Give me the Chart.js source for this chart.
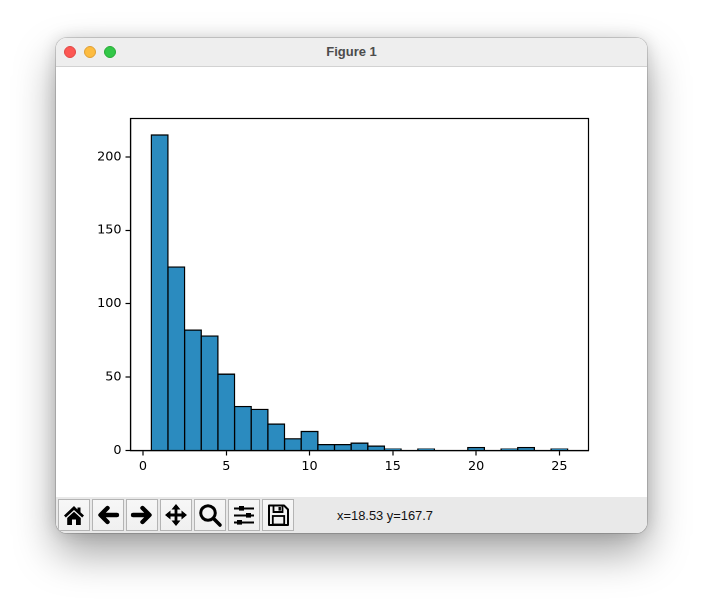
<!DOCTYPE html>
<html>
<head>
<meta charset="utf-8">
<script src="https://cdn.jsdelivr.net/npm/chart.js@4/dist/chart.umd.min.js"></script>
<style>
html,body{margin:0;padding:0;width:703px;height:607px;background:#fff;overflow:hidden}
#win{position:absolute;left:56px;top:38px;width:591px;height:495px;border-radius:11px;background:#fff;
 box-shadow:0 0 0 1px rgba(0,0,0,.15),0 20px 42px rgba(0,0,0,.36),0 0 16px rgba(0,0,0,.14);overflow:hidden}
#title{position:absolute;left:0;top:0;width:591px;height:28px;background:#eeeeee;border-bottom:1px solid #d2d2d2;
 font:bold 13px "Liberation Sans",sans-serif;color:#4c4c4c;text-align:center;line-height:28px}
.dot{position:absolute;top:8px;width:12px;height:12px;border-radius:50%;box-sizing:border-box}
#cv{position:absolute;left:0;top:29px;width:591px;height:430px}
#c{display:block}
#tb{position:absolute;left:0;top:459px;width:591px;height:36px;background:#e9e9e9}
.btn{position:absolute;top:2px;width:32px;height:32px;box-sizing:border-box;border:1px solid #b4b4b4;
 background:linear-gradient(#f7f7f7,#f0f0f0)}
.btn svg{position:absolute;left:0;top:0;width:30px;height:30px}
#status{position:absolute;left:281px;top:11px;font:12.9px "Liberation Sans",sans-serif;color:#111;white-space:nowrap}
</style>
</head>
<body>
<div id="win">
 <div id="title">Figure 1</div>
 <div class="dot" style="left:8px;background:#fc5753;border:1px solid #df4744"></div>
 <div class="dot" style="left:28px;background:#fdbc40;border:1px solid #de9f34"></div>
 <div class="dot" style="left:48px;background:#33c748;border:1px solid #27aa35"></div>
 <div id="cv"><canvas id="c" width="591" height="430"></canvas></div>
 <div id="tb">
  <div class="btn" style="left:2px"><svg viewBox="0 0 30 30"><path d="M15 6 L5 15.5 L6.8 17.6 L15 10 L23.2 17.6 L25 15.5 L21.5 12.2 V7.5 H18.5 V9.4 Z" fill="#000"/><path d="M8.2 18 L15 11.8 L21.8 18 V25 H17 V19.5 H13 V25 H8.2 Z" fill="#000"/></svg></div>
  <div class="btn" style="left:36px"><svg viewBox="0 0 30 30"><path d="M24 15 H8 M14.5 8 L7.5 15 L14.5 22" fill="none" stroke="#000" stroke-width="4.4" stroke-linecap="round" stroke-linejoin="round"/></svg></div>
  <div class="btn" style="left:70px"><svg viewBox="0 0 30 30"><path d="M6 15 H22 M15.5 8 L22.5 15 L15.5 22" fill="none" stroke="#000" stroke-width="4.4" stroke-linecap="round" stroke-linejoin="round"/></svg></div>
  <div class="btn" style="left:104px"><svg viewBox="0 0 30 30"><path d="M15 6 V24 M6 15 H24" stroke="#000" stroke-width="2.8" fill="none"/><path d="M15 4 L19.5 9.5 H10.5 Z M15 26 L19.5 20.5 H10.5 Z M4 15 L9.5 10.5 V19.5 Z M26 15 L20.5 10.5 V19.5 Z" fill="#000"/></svg></div>
  <div class="btn" style="left:138px"><svg viewBox="0 0 30 30"><circle cx="13" cy="13" r="7.3" fill="none" stroke="#000" stroke-width="3"/><path d="M18.5 18.5 L25 25" stroke="#000" stroke-width="3.6" stroke-linecap="round"/></svg></div>
  <div class="btn" style="left:172px"><svg viewBox="0 0 30 30"><path d="M5 8.5 H25 M5 15.5 H25 M5 22.5 H25" stroke="#000" stroke-width="1.8"/><rect x="10" y="6" width="5" height="4.6" fill="#000"/><rect x="17" y="13" width="5" height="4.6" fill="#000"/><rect x="8" y="20" width="5" height="4.6" fill="#000"/></svg></div>
  <div class="btn" style="left:206px"><svg viewBox="0 0 30 30"><path d="M6 5.5 H21 L25 9.5 V25 H6 Z" fill="none" stroke="#000" stroke-width="2" stroke-linejoin="round"/><path d="M10.5 6 V12 H19.5 V6" fill="none" stroke="#000" stroke-width="1.8"/><rect x="15.5" y="7" width="2.4" height="3.6" fill="#000"/><rect x="9.8" y="16" width="11.4" height="8.5" fill="none" stroke="#000" stroke-width="1.8"/></svg></div>
  <div id="status">x=18.53 y=167.7</div>
 </div>
</div>
<script>
const binCenters = [1,2,3,4,5,6,7,8,9,10,11,12,13,14,15,16,17,18,19,20,21,22,23,24,25];
const binCounts  = [215,125,82,78,52,30,28,18,8,13,4,4,5,3,1,0,1,0,0,2,0,1,2,0,1];
const xTicks = [0,5,10,15,20,25];
const yTicks = [0,50,100,150,200];

const frame = {
  id:'frame',
  afterDraw(chart){
    const {ctx,chartArea:a} = chart;
    ctx.save();
    ctx.strokeStyle='#000';ctx.lineWidth=1.2;
    ctx.strokeRect(a.left,a.top,a.right-a.left,a.bottom-a.top);
    ctx.restore();
  }
};
const font = {family:'"DejaVu Sans"',size:12.8};
new Chart(document.getElementById('c'),{
  type:'bar',
  data:{datasets:[{
    data:binCenters.map((x,i)=>({x:x,y:binCounts[i]})),
    backgroundColor:'#2b8bbf',borderColor:'#000',borderWidth:1.3,inflateAmount:0.65,
    barPercentage:1,categoryPercentage:1
  }]},
  options:{
    responsive:false,animation:false,devicePixelRatio:2,
    layout:{padding:{top:51.5,right:58.5,left:0,bottom:0}},
    plugins:{legend:{display:false},tooltip:{enabled:false},title:{display:false}},
    scales:{
      x:{type:'linear',offset:false,min:-0.75,max:26.75,
        afterBuildTicks(s){s.ticks=xTicks.map(v=>({value:v}));},
        afterFit(s){s.height=46.5;},
        grid:{display:true,offset:false,drawOnChartArea:false,tickLength:5,tickColor:'#000',tickWidth:1.2},
        border:{color:'#000',width:1.2},
        ticks:{color:'#000',font,maxRotation:0,padding:3.5,autoSkip:false}},
      y:{min:0,max:226.2,
        afterBuildTicks(s){s.ticks=yTicks.map(v=>({value:v}));},
        afterFit(s){s.width=74.5;},
        grid:{display:true,drawOnChartArea:false,tickLength:5,tickColor:'#000',tickWidth:1.2},
        border:{color:'#000',width:1.2},
        ticks:{color:'#000',font,padding:4,autoSkip:false}}
    }
  },
  plugins:[frame]
});
</script>
</body>
</html>
